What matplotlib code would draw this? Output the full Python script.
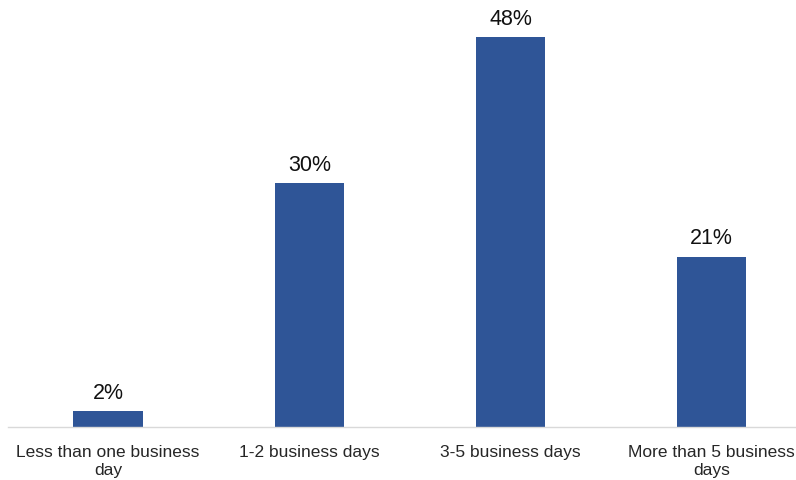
import matplotlib.pyplot as plt

categories = ['Less than one business\nday', '1-2 business days',
              '3-5 business days', 'More than 5 business\ndays']
values = [2, 30, 48, 21]

bar_color = '#2F5597'

fig = plt.figure(figsize=(7.96, 4.81), dpi=100)
# axes runs past the right edge, like the cropped original
ax = fig.add_axes([0.0095, 0.11, 1.011, 0.89])

x = range(len(categories))
bars = ax.bar(x, values, width=0.345, color=bar_color)

for bar, val in zip(bars, values):
    ax.text(bar.get_x() + bar.get_width() / 2, val + 1.0, f'{val}%',
            ha='center', va='bottom', fontsize=15.5, color='#111111',
            family='Liberation Sans')

ax.set_xlim(-0.5, 3.5)
ax.set_ylim(0, 52.7)
ax.set_xticks(list(x))
ax.set_xticklabels(categories, fontsize=12.5, family='Liberation Sans',
                   color='#262626', linespacing=1.3)
ax.tick_params(axis='x', length=0, pad=12)
ax.set_yticks([])

for side in ['top', 'right', 'left']:
    ax.spines[side].set_visible(False)
ax.spines['bottom'].set_color('#D9D9D9')
ax.spines['bottom'].set_linewidth(1)

fig.savefig('out.png', dpi=100, facecolor='white')
